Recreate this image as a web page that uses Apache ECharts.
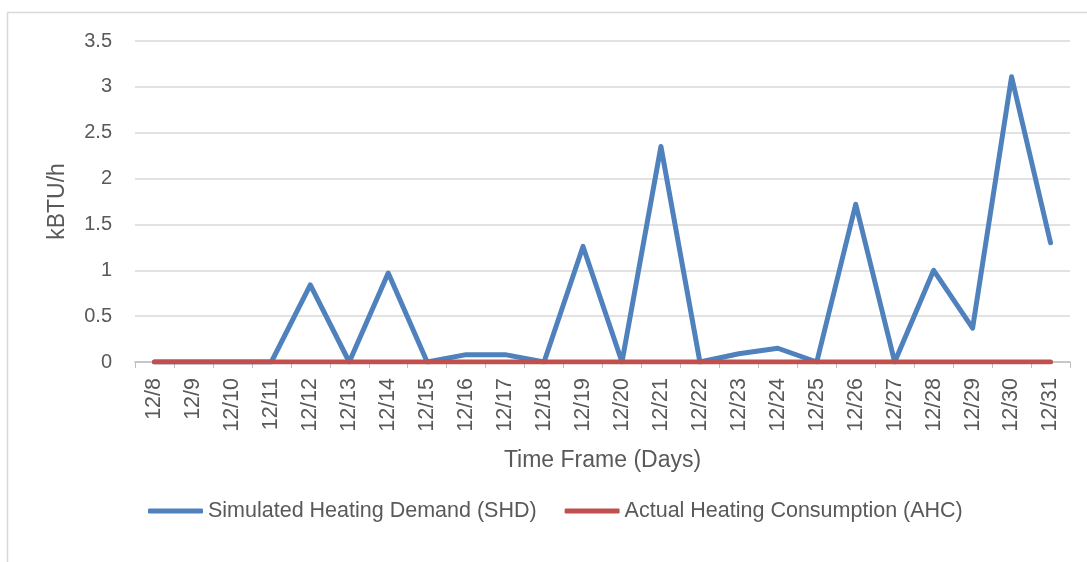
<!DOCTYPE html>
<html><head><meta charset="utf-8">
<script src="https://cdn.jsdelivr.net/npm/echarts@6/dist/echarts.min.js"></script>
<style>html,body{margin:0;padding:0;background:#fff}#c{width:1087px;height:562px}</style>
</head><body><div id="c"></div>
<script>
const categories = ['12/8','12/9','12/10','12/11','12/12','12/13','12/14','12/15','12/16','12/17','12/18','12/19','12/20','12/21','12/22','12/23','12/24','12/25','12/26','12/27','12/28','12/29','12/30','12/31'];
const shd = [0,0,0,0,0.84,0,0.97,0,0.08,0.08,0,1.26,0,2.35,0,0.09,0.15,0,1.72,0,1.0,0.37,3.11,1.3];
const ahc = [0,0,0,0,0,0,0,0,0,0,0,0,0,0,0,0,0,0,0,0,0,0,0,0];
const seriesNames = ['Simulated Heating Demand (SHD)','Actual Heating Consumption (AHC)'];
const font = '"Liberation Sans",Arial,sans-serif';
const chart = echarts.init(document.getElementById('c'));
chart.setOption({
  animation:false,
  textStyle:{fontFamily:font},
  graphic:[{type:'rect',shape:{x:7.5,y:12.5,width:1100,height:600},style:{fill:'none',stroke:'#d9d9d9',lineWidth:1.5},silent:true}],
  grid:{left:135,right:17,top:41,bottom:200},
  legend:{top:495,left:143,itemWidth:55,itemHeight:5,itemGap:28,
    textStyle:{fontSize:21.5,color:'#595959',fontFamily:font},
    data:seriesNames.map(n=>({name:n,icon:'roundRect'}))},
  xAxis:{type:'category',data:categories,boundaryGap:true,
    name:'Time Frame (Days)',nameLocation:'middle',nameGap:87,
    nameTextStyle:{fontSize:23,color:'#595959',fontFamily:font},
    axisLine:{lineStyle:{color:'#bfbfbf',width:1.5}},
    axisTick:{show:true,length:6,lineStyle:{color:'#bfbfbf'}},
    axisLabel:{rotate:90,interval:0,fontSize:21.5,color:'#595959',margin:16,fontFamily:font}},
  yAxis:{type:'value',min:0,max:3.5,interval:0.5,
    name:'kBTU/h',nameLocation:'middle',nameGap:66,
    nameTextStyle:{fontSize:23,color:'#595959',fontFamily:font},
    axisLine:{show:false},axisTick:{show:false},
    axisLabel:{fontSize:20,color:'#595959',margin:23,fontFamily:font},
    splitLine:{lineStyle:{color:'#d9d9d9',width:1.5}}},
  series:[
    {name:seriesNames[0],type:'line',data:shd,symbol:'none',color:'#4f81bd',lineStyle:{width:5,color:'#4f81bd',cap:'round',join:'round'},z:2},
    {name:seriesNames[1],type:'line',data:ahc,symbol:'none',color:'#c0504d',lineStyle:{width:5,color:'#c0504d',cap:'round'},z:3}
  ]
});
</script></body></html>
